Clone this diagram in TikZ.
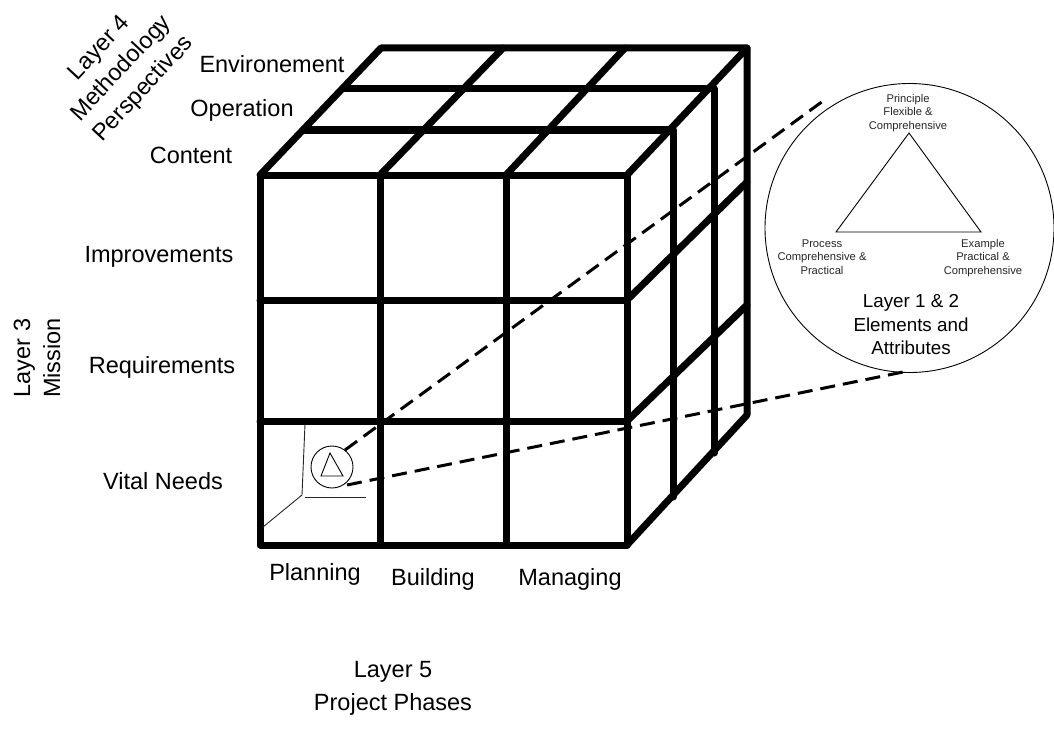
\documentclass[tikz,border=0pt]{standalone}
\usepackage{fontspec}
\setmainfont{Liberation Sans}
\newcommand{\fsL}{\fontsize{23.5}{30}\selectfont}
\newcommand{\fsM}{\fontsize{18.8}{23.5}\selectfont}
\newcommand{\fsS}{\fontsize{11.2}{13.2}\selectfont}
\tikzset{
  grid/.style={line width=7pt,line join=round,line cap=round,black},
  thin line/.style={line width=0.9pt,black!85},
  link/.style={line width=3pt,dash pattern=on 15pt off 8pt,black},
  lab/.style={inner sep=0pt,align=center,text=black,font=\fsL},
  smalllab/.style={inner sep=0pt,align=center,text=black!85,font=\fsS},
  midlab/.style={inner sep=0pt,align=center,text=black,font=\fsM}
}
\begin{document}
\begin{tikzpicture}[x=1pt,y=-1pt]
\useasboundingbox (0,0) rectangle (1054,741);
% front face
\coordinate (F1) at (260,175); \coordinate (F2) at (627,175);
\coordinate (F3) at (627,545); \coordinate (F4) at (260,545);
\coordinate (V1t) at (380,175); \coordinate (V1b) at (380,545);
\coordinate (V2t) at (506,175); \coordinate (V2b) at (506,545);
\coordinate (H1l) at (260,300); \coordinate (H1r) at (627,300);
\coordinate (H2l) at (260,421); \coordinate (H2r) at (627,421);
% back
\coordinate (B1) at (381,48); \coordinate (B2) at (747,48); \coordinate (B3) at (747,415);
\coordinate (T1l) at (305,130); \coordinate (T1r) at (673,130);
\coordinate (T2l) at (343,89); \coordinate (T2r) at (714,89);
\coordinate (D1) at (503,48); \coordinate (D2) at (625,48);
\coordinate (S1b) at (673,497); \coordinate (S2b) at (714,453);
\coordinate (R1) at (747,182); \coordinate (R2) at (747,305);
\draw[grid] (F1) -- (F2) -- (F3) -- (F4) -- cycle;
\draw[grid] (V1t) -- (V1b) (V2t) -- (V2b) (H1l) -- (H1r) (H2l) -- (H2r);
\draw[grid] (F1) -- (B1) -- (B2) -- (B3) -- (F3);
\draw[grid] (F2) -- (B2);
\draw[grid] (T1l) -- (T1r) -- (S1b);
\draw[grid] (T2l) -- (T2r) -- (S2b);
\draw[grid] (V1t) -- (D1) (V2t) -- (D2);
\draw[grid] (H1r) -- (R1) (H2r) -- (R2);
% inner corner
\coordinate (I1) at (305,424); \coordinate (I2) at (302,495); \coordinate (I3) at (263,527);
\coordinate (I4) at (305,497); \coordinate (I5) at (366,497);
\draw[thin line] (I1) -- (I2) -- (I3);
\draw[thin line] (I4) -- (I5);
% small circle
\node[circle,draw,line width=0.9pt,minimum size=42pt,inner sep=0pt] (small) at (332,467) {};
\coordinate (s1) at (330,453); \coordinate (s2) at (343,476); \coordinate (s3) at (321,476);
\draw[line width=0.9pt] (s1) -- (s2) -- (s3) -- cycle;
% big circle
\node[circle,draw,line width=0.9pt,minimum size=289pt,inner sep=0pt] (big) at (909.5,228) {};
\coordinate (t1) at (909,133); \coordinate (t2) at (981,232); \coordinate (t3) at (836,232);
\draw[line width=0.9pt] (t1) -- (t2) -- (t3) -- cycle;
% connectors
\coordinate (c1a) at (345,450); \coordinate (c1b) at (823,101);
\coordinate (c2a) at (347,485); \coordinate (c2b) at (908,371);
\draw[link] (c1a) -- (c1b);
\draw[link] (c2a) -- (c2b);
% labels
\node[lab] (env) at (272,64) {Environement};
\node[lab] (ope) at (242,110) {Operation};
\node[lab] (con) at (191,155) {Content};
\node[lab] (imp) at (159,257) {Improvements};
\node[lab] (req) at (162,367) {Requirements};
\node[lab] (vit) at (163,481) {Vital Needs};
\node[lab] (pla) at (315,574) {Planning};
\node[lab] (bui) at (433,579) {Building};
\node[lab] (man) at (570,579) {Managing};
\node[lab,text height=17pt,text depth=5pt] (l5) at (393,704) {Layer 5\\[3pt]Project Phases};
\node[lab,rotate=90] (l3) at (37,358) {Layer 3\\Mission};
\node[lab,rotate=47] (l4) at (122,69) {Layer 4\\Methodology\\Perspectives};
\node[smalllab] (pr) at (908,113) {Principle\\Flexible \&\\Comprehensive};
\node[smalllab] (pc) at (822,257) {Process\\Comprehensive \&\\Practical};
\node[smalllab] (ex) at (983,258) {Example\\Practical \&\\Comprehensive};
\node[midlab] (l12) at (911,325) {Layer 1 \& 2\\Elements and\\Attributes};
\end{tikzpicture}
\end{document}
